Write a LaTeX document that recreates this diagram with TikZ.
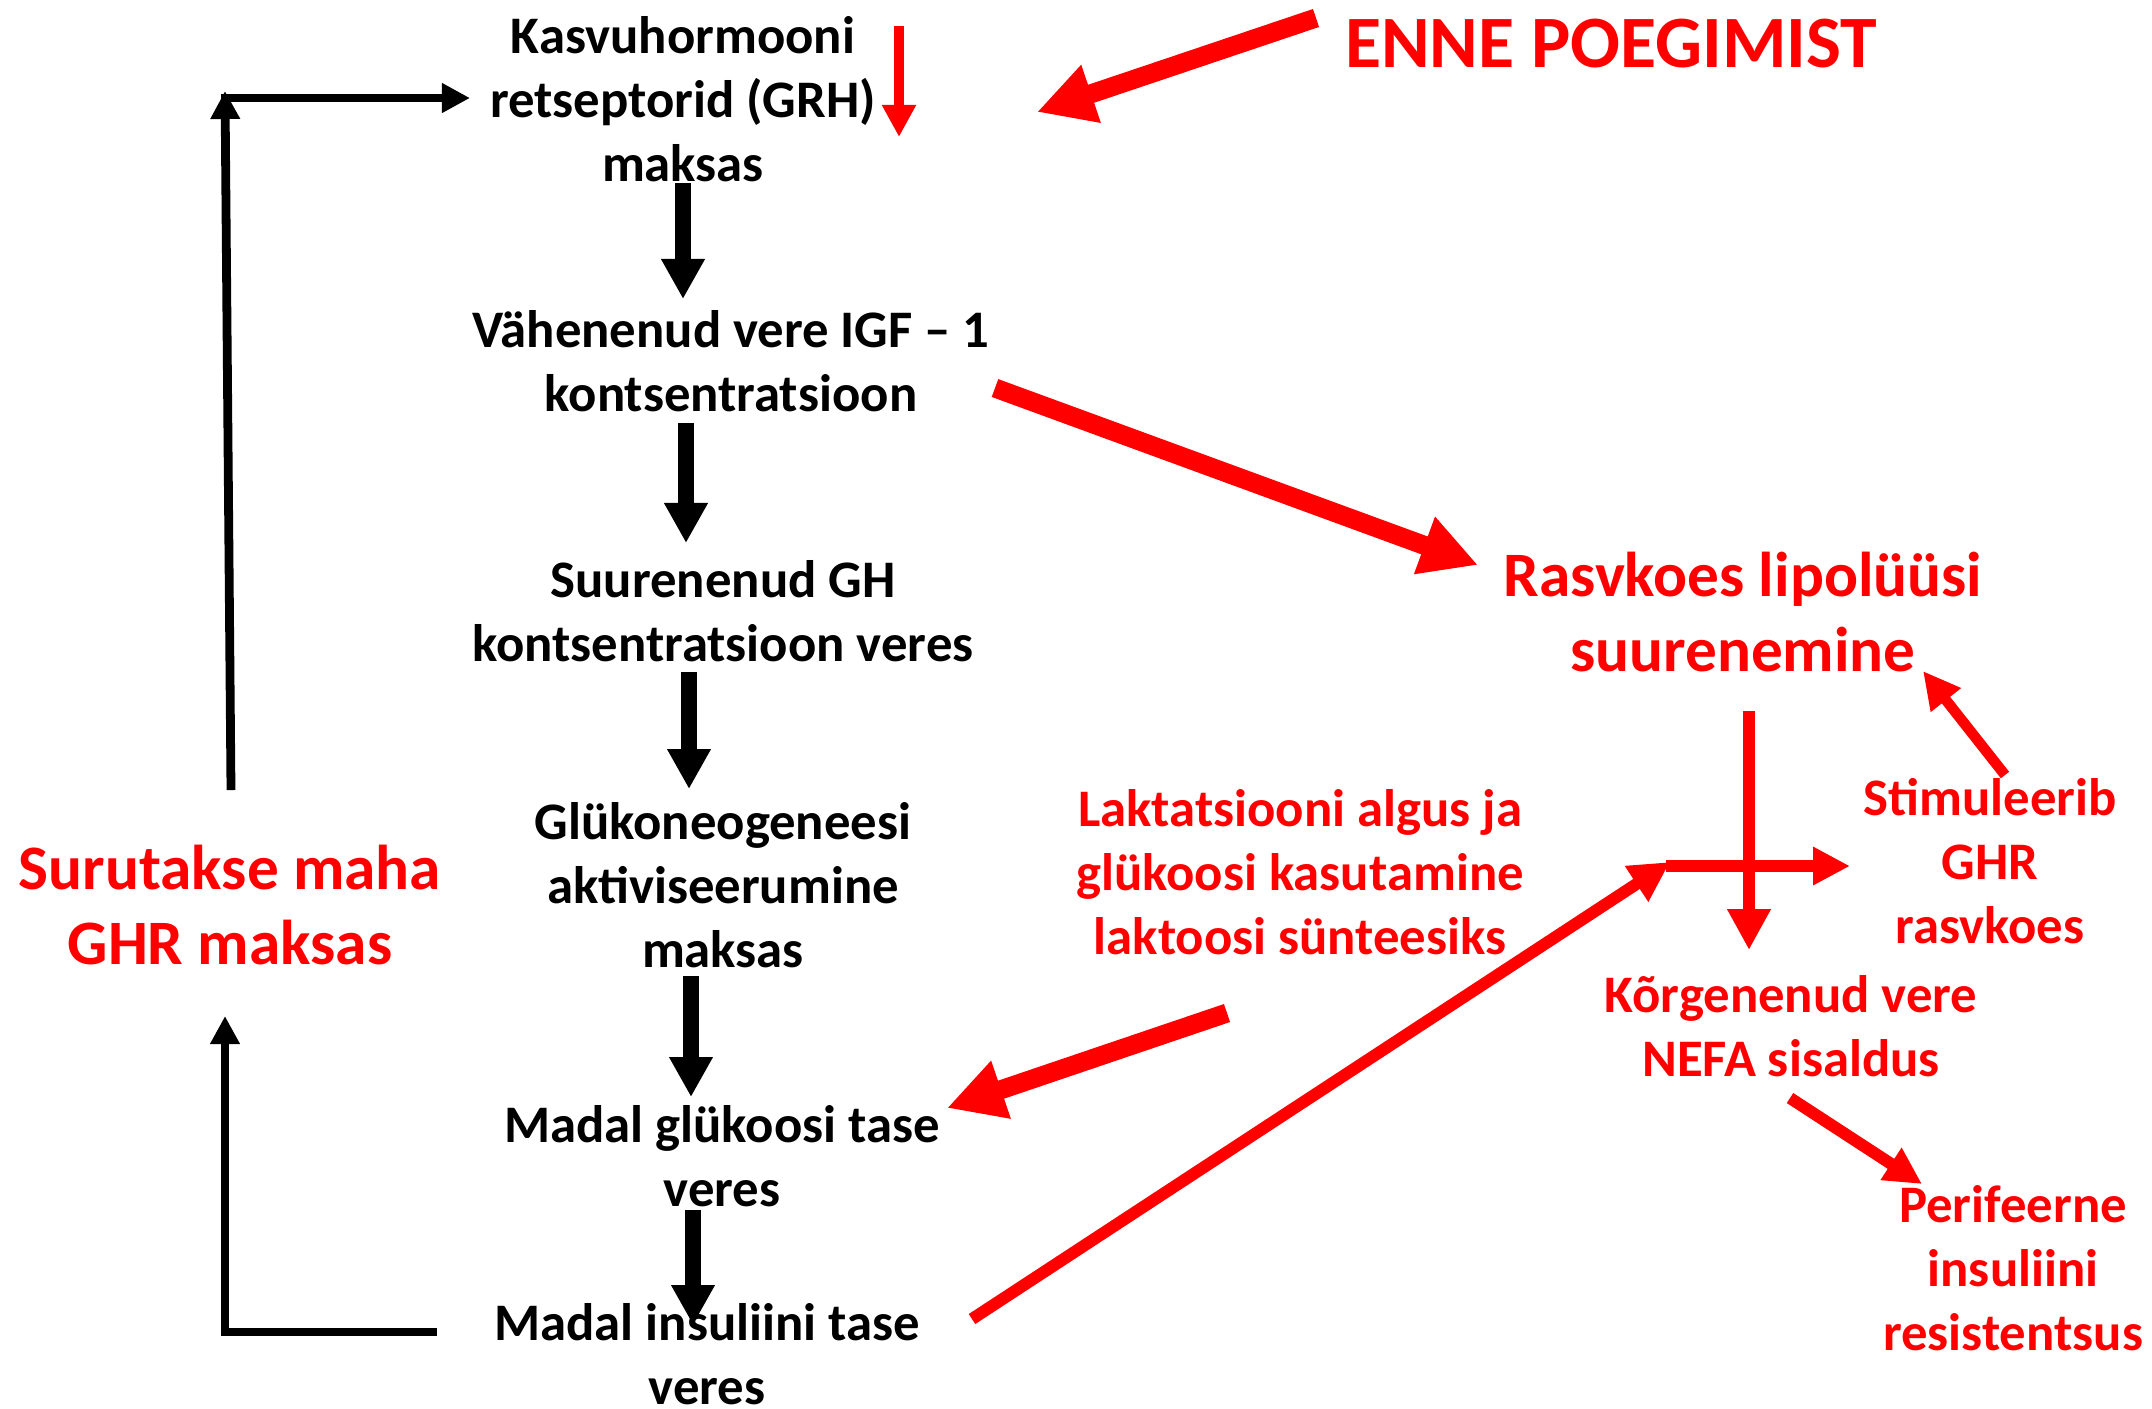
\documentclass[tikz,border=0pt]{standalone}
\usepackage{fontspec}
\setmainfont{Carlito}
\usepackage{tikz}
\usetikzlibrary{arrows.meta}
\definecolor{pptred}{RGB}{255,0,0}

\begin{document}
\begin{tikzpicture}[x=0.01cm, y=-0.01cm,
        every node/.style={align=center, inner sep=0pt, font=\bfseries\fontsize{15}{18.2}\selectfont},
        bigtext/.style={font=\bfseries\fontsize{18}{21.6}\selectfont},
        redtext/.style={text=pptred},
        mainarrow/.style={line width=4.3pt, -{Triangle[length=0.4cm, width=0.41cm]}},
        looparrow/.style={line width=2.5pt, -{Triangle[length=0.28cm, width=0.28cm]}},
        fatred/.style={draw=pptred, fill=pptred, line width=5.4pt, -{Triangle[length=0.57cm, width=0.57cm]}},
        midred/.style={draw=pptred, fill=pptred, line width=3.4pt, -{Triangle[length=0.37cm, width=0.36cm]}},
        thinred/.style={draw=pptred, fill=pptred, line width=2.6pt, -{Triangle[length=0.32cm, width=0.32cm]}}]
        \useasboundingbox (0,0) rectangle (2152,1408);

        % Nodes
        \node (grh) at (683,99) {Kasvuhormooni\\retseptorid (GRH)\\maksas};
        \node (igf) at (731,361) {Vähenenud vere IGF – 1\\kontsentratsioon};
        \node (gh) at (723,611) {Suurenenud GH\\kontsentratsioon veres};
        \node (gluk) at (723,885) {Glükoneogeneesi\\aktiviseerumine\\maksas};
        \node (gluc) at (722,1156) {Madal glükoosi tase\\veres};
        \node (ins) at (707,1354) {Madal insuliini tase\\veres};
        \node[bigtext, redtext] (suru) at (230,905) {Surutakse maha\\GHR maksas};
        \node[redtext, font=\bfseries\fontsize{21}{25}\selectfont] (enne) at (1611,44) {ENNE POEGIMIST};
        \node[bigtext, redtext] (rasv) at (1743,612) {Rasvkoes lipolüüsi\\suurenemine};
        \node[redtext] (lakt) at (1300,872) {Laktatsiooni algus ja\\glükoosi kasutamine\\laktoosi sünteesiks};
        \node[redtext] (stim) at (1990,861) {Stimuleerib\\GHR\\rasvkoes};
        \node[redtext] (nefa) at (1791,1026) {Kõrgenenud vere\\NEFA sisaldus};
        \node[redtext] (peri) at (2013,1268) {Perifeerne\\insuliini\\resistentsus};

        % Main chain
        \draw[mainarrow] ([shift={(0,84)}]grh.center) -- ([shift={(-48,-62)}]igf.center);
        \draw[mainarrow] ([shift={(-45,62)}]igf.center) -- ([shift={(-37,-68)}]gh.center);
        \draw[mainarrow] ([shift={(-34,61)}]gh.center) -- ([shift={(-34,-96)}]gluk.center);
        \draw[mainarrow] ([shift={(-32,91)}]gluk.center) -- ([shift={(-31,-59)}]gluc.center);
        \draw[mainarrow] ([shift={(-29,54)}]gluc.center) -- ([shift={(-14,-29)}]ins.center);

        % Feedback loop
        \draw[looparrow] ([shift={(-270,-22)}]ins.center) -| ([shift={(-5,111)}]suru.center);
        \draw[looparrow] ([shift={(1,-115)}]suru.center) -- ([shift={(-458,-8)}]grh.center);
        \draw[looparrow] ([shift={(-462,-1)}]grh.center) -- ([shift={(-213,-1)}]grh.center);

        % Red arrows
        \coordinate (cross) at ([shift={(-324,5)}]stim.center);
        \draw[thinred] ([shift={(216,-73)}]grh.center) -- ([shift={(216,38)}]grh.center);
        \draw[fatred] ([shift={(-295,-26)}]enne.center) -- ([shift={(354,13)}]grh.center);
        \draw[fatred] ([shift={(264,27)}]igf.center) -- ([shift={(-265,-47)}]rasv.center);
        \draw[fatred] ([shift={(-73,141)}]lakt.center) -- ([shift={(225,-48)}]gluc.center);
        \draw[midred, -{Triangle[length=0.4cm, width=0.4cm]}] ([shift={(265,-35)}]ins.center) -- ([shift={(4,-4)}]cross);
        \draw[midred] (cross) -- ([shift={(-140,5)}]stim.center);
        \draw[midred, -{Triangle[length=0.41cm, width=0.41cm]}] ([shift={(6,99)}]rasv.center) -- ([shift={(-42,-76)}]nefa.center);
        \draw[midred, line width=3pt] ([shift={(15,-86)}]stim.center) -- ([shift={(180,59)}]rasv.center);
        \draw[midred] ([shift={(-1,72)}]nefa.center) -- ([shift={(-91,-84)}]peri.center);
\end{tikzpicture}
\end{document}
